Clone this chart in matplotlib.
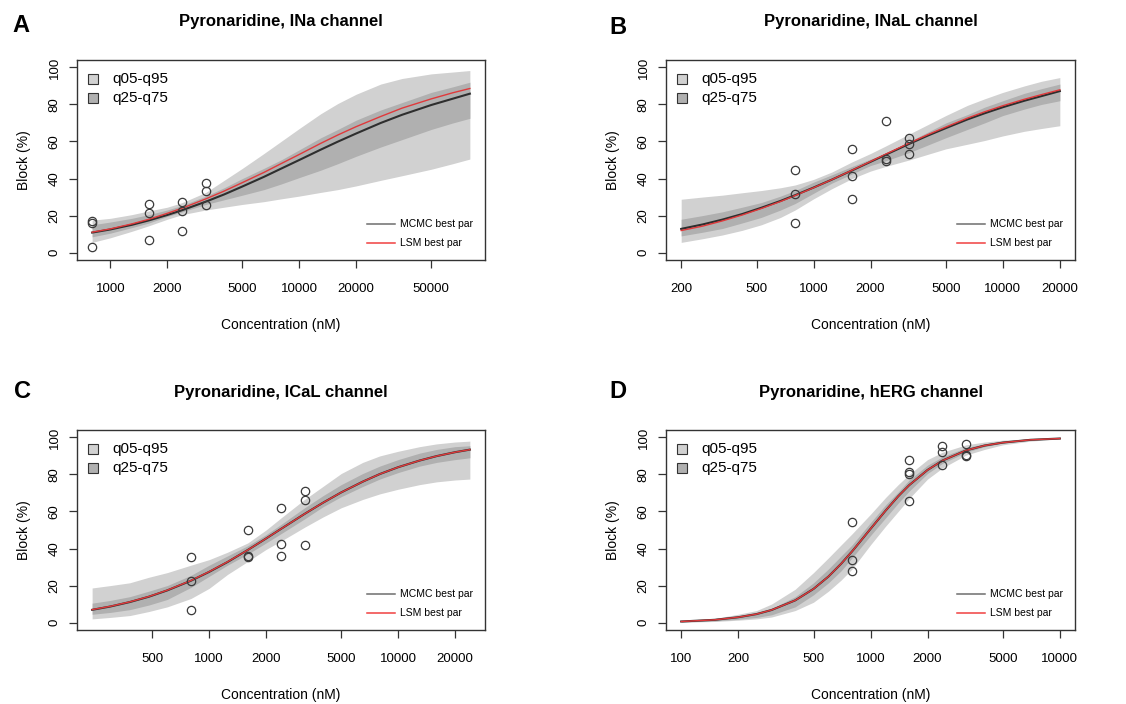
import numpy as np
import matplotlib
matplotlib.use("Agg")
import matplotlib.pyplot as plt
from matplotlib.patches import Rectangle
from matplotlib.ticker import NullLocator

plt.rcParams['font.family'] = ['Liberation Sans', 'DejaVu Sans']

# ---- Panel A: INa ----
a_conc = [800, 1000, 1300, 1600, 2000, 2400, 3200, 4000, 5000, 6500, 8000,
          10000, 13000, 16000, 20000, 27000, 35000, 50000, 65000, 80000]
a_mcmc = [10.8, 12.5, 15, 17.4, 20.3, 22.9, 27.5, 31.4, 35.7, 40.9, 45.3,
          50, 55.6, 59.9, 64.3, 70, 74.4, 79.7, 83.1, 85.8]
a_lsm = [11, 12.8, 15.5, 18, 21.2, 24, 29, 33.2, 37.8, 43.3, 48,
         53, 59, 63.5, 68, 73.5, 78, 83, 86.3, 88.6]
a_q05 = [5.5, 8, 11.5, 14.5, 18, 20.5, 23, 24.5, 26, 27.5, 29,
         30.5, 32.5, 34, 36, 39, 41.5, 45, 48, 50.5]
a_q95 = [17.5, 18.5, 20.5, 22.5, 24.5, 27, 32.5, 39, 45.5, 53.5, 60,
         67, 75, 80.5, 85.5, 91, 94, 96.5, 97.5, 98.3]
a_q25 = [8.5, 10.5, 13.5, 16, 19.5, 22, 26, 28.5, 31, 34, 37,
         40.5, 44.5, 48, 52, 57, 61, 66.5, 70, 72.5]
a_q75 = [15, 16.5, 18.5, 20.5, 23, 25.5, 30.5, 35, 40, 45.5, 50,
         55.5, 62, 66.5, 71.5, 77, 81, 86.5, 89.5, 92]
a_pts_x = [800, 800, 800, 1600, 1600, 1600, 2400, 2400, 2400, 3200, 3200, 3200]
a_pts_y = [17, 16, 3.2, 26.3, 21.2, 6.8, 27.2, 22.3, 11.9, 37.8, 33.5, 25.8]
a_ticks = [1000, 2000, 5000, 10000, 20000, 50000]

# ---- Panel B: INaL ----
b_conc = [200, 260, 330, 420, 530, 670, 800, 1000, 1250, 1600, 2000,
          2400, 3200, 4000, 5000, 6500, 8000, 10000, 13000, 16000, 20000]
b_mcmc = [12.8, 15.2, 17.8, 20.8, 24.2, 27.9, 31, 35.1, 39.4, 44.4, 49,
          52.8, 58.7, 63.1, 67.2, 71.9, 75.2, 78.5, 82, 84.5, 87.2]
b_lsm = [11.9, 14.3, 17.1, 20.3, 23.8, 27.6, 30.8, 35, 39.4, 44.5, 49.2,
         53.1, 59.1, 63.6, 67.8, 72.6, 76, 79.3, 82.8, 85.3, 87.9]
b_q05 = [5.5, 7.5, 9.5, 12, 15, 19, 23, 29, 34.5, 40, 44,
         46.5, 50, 53, 56, 58.5, 60.5, 63, 65.5, 67, 68.5]
b_q95 = [28.8, 30, 31, 32.3, 33.5, 35, 36.5, 39.5, 43.5, 49, 53.5,
         57.5, 64, 69, 74, 79.5, 83, 86.5, 90, 92.5, 94.5]
b_q25 = [9, 11, 13, 16, 19, 23, 26.5, 32, 37.5, 42.5, 47,
         49.5, 54, 58, 62, 66.5, 70, 74, 77.5, 80, 82]
b_q75 = [18, 20, 22, 24.5, 27, 30.5, 33.5, 38, 42, 46.5, 50.5,
         53.5, 60, 65, 70, 74.5, 78.5, 82, 86, 88.5, 91]
b_pts_x = [800, 800, 800, 1600, 1600, 1600, 2400, 2400, 2400, 3200, 3200, 3200]
b_pts_y = [44.7, 31.7, 15.9, 56, 41.6, 29, 70.8, 50.5, 49.7, 61.8, 58.4, 53]
b_ticks = [200, 500, 1000, 2000, 5000, 10000, 20000]

# ---- Panel C: ICaL ----
c_conc = [240, 300, 380, 480, 600, 800, 1000, 1250, 1600, 2000, 2400,
          3200, 4000, 5000, 6500, 8000, 10000, 13000, 16000, 20000, 24000]
c_mcmc = [6.9, 8.7, 11.1, 14, 17.4, 22.6, 27.4, 32.7, 39.2, 45.4, 50.6,
          58.7, 64.7, 70.3, 76.1, 80.2, 83.9, 87.5, 89.9, 92, 93.4]
c_lsm = [7, 8.8, 11.2, 14.1, 17.5, 22.7, 27.5, 32.8, 39.2, 45.4, 50.6,
         58.7, 64.7, 70.3, 76.1, 80.2, 83.9, 87.5, 89.9, 92, 93.4]
c_q05 = [2, 2.8, 3.8, 6, 8.5, 13, 18.5, 26, 33, 39.5, 44,
         51.5, 57, 62, 66.5, 69.5, 72, 74.5, 76, 77, 77.5]
c_q95 = [18.7, 20, 21.5, 24.5, 27, 31, 34, 38, 43, 50, 56.5,
         66.5, 73.5, 80.5, 86.5, 90, 92.5, 95, 96.5, 97.5, 98]
c_q25 = [4.5, 5.5, 7, 9.5, 12.5, 19, 25, 31, 37, 43, 48,
         56, 62.5, 68, 73.5, 77.5, 81, 84.5, 86.5, 88, 89]
c_q75 = [10.5, 12, 14, 17, 20, 25.5, 31, 36, 41.5, 47.5, 53,
         62, 68.5, 74.5, 80.5, 84.5, 88, 91.5, 93.5, 95, 95.5]
c_pts_x = [800, 800, 800, 1600, 1600, 1600, 2400, 2400, 2400, 3200, 3200, 3200]
c_pts_y = [35.4, 22.6, 6.7, 49.8, 35.7, 35.4, 62, 42.6, 35.7, 71, 66.4, 42]
c_ticks = [500, 1000, 2000, 5000, 10000, 20000]

# ---- Panel D: hERG ----
d_conc = [100, 150, 200, 250, 300, 400, 500, 600, 700, 800, 1000,
          1200, 1400, 1600, 2000, 2400, 3200, 4000, 5000, 7000, 10000]
d_mcmc = [0.6, 1.5, 2.9, 4.6, 6.8, 12, 18.2, 24.9, 31.8, 38.5, 50.6,
          60.4, 68.2, 74.2, 82.4, 87.5, 93, 95.6, 97.2, 98.7, 99.4]
d_lsm = [0.6, 1.5, 2.9, 4.6, 6.8, 12, 18.2, 24.9, 31.8, 38.5, 50.6,
         60.4, 68.2, 74.2, 82.4, 87.5, 93, 95.6, 97.2, 98.7, 99.4]
d_q05 = [0.2, 0.6, 1.3, 2, 3, 6.5, 11, 17, 23, 29, 42,
         52, 60, 67, 77.5, 83.5, 90.5, 93.5, 96, 98, 99.2]
d_q95 = [1, 2.2, 4.5, 6.5, 10, 18, 27, 35, 42, 48, 58.5,
         67.5, 74.5, 80, 88, 92, 96, 97.5, 98.5, 99.3, 99.8]
d_q25 = [0.3, 0.9, 1.8, 2.8, 4.2, 8.5, 15, 21.5, 28, 35, 47,
         56.5, 64.5, 71, 80.5, 86, 92, 95, 97, 98.5, 99.4]
d_q75 = [0.7, 1.6, 3, 4.5, 7.5, 14, 21.5, 29, 36, 42, 54,
         63.5, 70.5, 77, 85, 89.5, 94.5, 96.5, 98, 99, 99.7]
d_pts_x = [800, 800, 800, 1600, 1600, 1600, 1600, 2400, 2400, 2400, 3200, 3200, 3200]
d_pts_y = [54.3, 33.9, 27.6, 87.9, 81.4, 80.3, 65.9, 95.5, 92.2, 85, 96.2, 90.3, 89.7]
d_ticks = [100, 200, 500, 1000, 2000, 5000, 10000]

OUTER = '#d1d1d1'
INNER = '#b0b0b0'
FRAME = '#333333'


def draw_panel(ax, conc, mcmc, lsm, q05, q95, q25, q75, px, py, ticks, title):
    ax.fill_between(conc, q05, q95, color=OUTER, lw=0)
    ax.fill_between(conc, q25, q75, color=INNER, lw=0)
    ax.plot(conc, mcmc, color='#2e2e2e', lw=1.5)
    ax.plot(conc, lsm, color='#e0393b', lw=1.0)
    ax.plot(px, py, 'o', ms=6, mfc='none', mec='#3a3a3a', mew=0.9)

    ax.set_xscale('log')
    lo, hi = np.log10(conc[0]), np.log10(conc[-1])
    pad = 0.04 * (hi - lo)
    ax.set_xlim(10 ** (lo - pad), 10 ** (hi + pad))
    ax.set_ylim(-4, 104)
    ax.set_xticks(ticks)
    ax.set_xticklabels([str(t) for t in ticks])
    ax.xaxis.set_minor_locator(NullLocator())
    ax.set_yticks([0, 20, 40, 60, 80, 100])
    ax.tick_params(length=5.8, width=0.9, color=FRAME, labelsize=9.5)
    ax.tick_params(axis='x', pad=11)
    ax.tick_params(axis='y', pad=6, labelrotation=90)
    plt.setp(ax.get_yticklabels(), va='center')
    for s in ax.spines.values():
        s.set_color(FRAME)
        s.set_linewidth(1.0)

    ax.set_xlabel('Concentration (nM)', fontsize=10)
    ax.set_ylabel('Block (%)', fontsize=10)
    ax.xaxis.set_label_coords(0.5, -0.325)
    ax.yaxis.set_label_coords(-0.13, 0.5)
    ax.xaxis.label.set_va('center')
    ax.yaxis.label.set_va('center')
    ax.text(0.5, 1.19, title, transform=ax.transAxes, ha='center', va='center',
            fontsize=12, fontweight='bold')

    # quantile legend, top left
    for yy, col, lab in [(0.905, OUTER, 'q05-q95'), (0.812, INNER, 'q25-q75')]:
        ax.add_patch(Rectangle((0.027, yy - 0.025), 0.025, 0.05, transform=ax.transAxes,
                               fc=col, ec=FRAME, lw=0.8))
        ax.text(0.086, yy, lab, transform=ax.transAxes, va='center', fontsize=11)

    # best-fit legend, bottom right
    for yy, col, lab in [(0.18, '#6e6e6e', 'MCMC best par'), (0.085, '#f04040', 'LSM best par')]:
        ax.plot([0.711, 0.779], [yy, yy], transform=ax.transAxes, color=col, lw=1.1)
        ax.text(0.792, yy, lab, transform=ax.transAxes, va='center', fontsize=7.5)


fig = plt.figure(figsize=(11.26, 7.04), dpi=100)
axA = fig.add_axes([0.0684, 0.6307, 0.3623, 0.2841])
axB = fig.add_axes([0.5915, 0.6307, 0.3632, 0.2841])
axC = fig.add_axes([0.0684, 0.1051, 0.3623, 0.2841])
axD = fig.add_axes([0.5915, 0.1051, 0.3632, 0.2841])

draw_panel(axA, a_conc, a_mcmc, a_lsm, a_q05, a_q95, a_q25, a_q75,
           a_pts_x, a_pts_y, a_ticks, 'Pyronaridine, INa channel')
draw_panel(axB, b_conc, b_mcmc, b_lsm, b_q05, b_q95, b_q25, b_q75,
           b_pts_x, b_pts_y, b_ticks, 'Pyronaridine, INaL channel')
draw_panel(axC, c_conc, c_mcmc, c_lsm, c_q05, c_q95, c_q25, c_q75,
           c_pts_x, c_pts_y, c_ticks, 'Pyronaridine, ICaL channel')
draw_panel(axD, d_conc, d_mcmc, d_lsm, d_q05, d_q95, d_q25, d_q75,
           d_pts_x, d_pts_y, d_ticks, 'Pyronaridine, hERG channel')

# panel letters
for x, y, letter in [(21, 26, 'A'), (618, 27, 'B'), (22, 392, 'C'), (618, 392, 'D')]:
    fig.text(x / 1126, 1 - y / 704, letter, ha='center', va='center',
             fontsize=17, fontweight='bold')

fig.savefig('out.png', dpi=100)
